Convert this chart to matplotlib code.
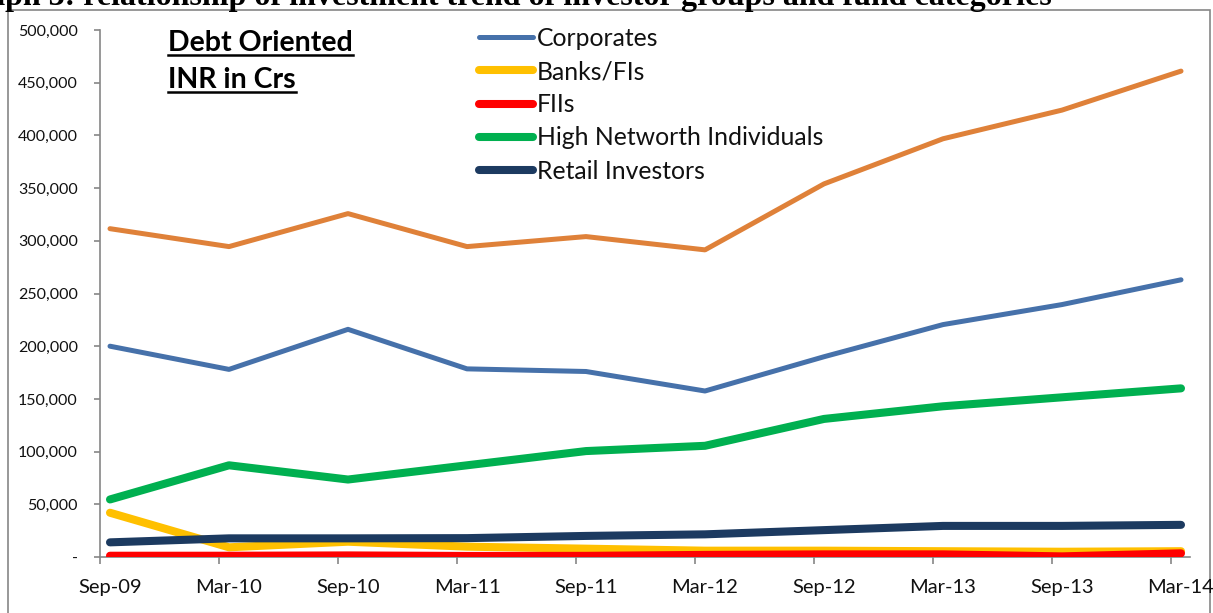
import matplotlib
matplotlib.use("Agg")
import matplotlib.pyplot as plt
from matplotlib.lines import Line2D
from matplotlib.patches import Rectangle
from matplotlib.ticker import FuncFormatter, FixedLocator

# Half-yearly periods
periods = ["Sep-09", "Mar-10", "Sep-10", "Mar-11", "Sep-11",
           "Mar-12", "Sep-12", "Mar-13", "Sep-13", "Mar-14"]

# Debt-oriented AUM by investor group (INR crore)
corporates = [200000, 178000, 216000, 178500, 176000, 157500, 190000, 220500, 239500, 263000]
banks_fis = [42000, 9200, 14500, 9800, 7900, 6000, 6000, 5500, 5000, 5500]
fiis = [1200, 1200, 1500, 1000, 1100, 2000, 2500, 2500, 600, 3500]
hni = [54600, 87000, 73500, 87000, 100500, 105500, 131000, 143000, 151500, 160000]
retail = [13900, 17700, 17700, 17900, 20000, 21500, 25500, 29500, 29500, 30500]
total = [311500, 294500, 325800, 294500, 304000, 291400, 354000, 396800, 424000, 461000]

series = [
    ("Corporates", corporates, "#4671AA", 3.6),
    ("Banks/FIs", banks_fis, "#FFC000", 5.8),
    ("FIIs", fiis, "#FF0000", 5.8),
    ("High Networth Individuals", hni, "#00B050", 5.8),
    ("Retail Investors", retail, "#1C3A60", 5.8),
]

FONT = "Lato"
W, H = 1213, 613
fig = plt.figure(figsize=(W / 100, H / 100), dpi=100)
fig.patch.set_facecolor("white")

# axes box in pixels: left 100, right 1190, top 30, bottom 557
ax = fig.add_axes([100 / W, (H - 557) / H, 1090 / W, 527 / H])

x = list(range(len(periods)))
handles = []
for name, vals, color, lw in series:
    (ln,) = ax.plot(x, vals, color=color, lw=lw, solid_capstyle="round",
                    solid_joinstyle="round", label=name, zorder=3)
    handles.append(ln)
ax.plot(x, total, color="#DF8139", lw=3.6, solid_capstyle="round",
        solid_joinstyle="round", zorder=3)

step_off = 10 / 119
ax.set_xlim(-step_off, 9 + 9 / 119)
ax.set_ylim(0, 500000)

grey = "#868686"
for side in ("top", "right"):
    ax.spines[side].set_visible(False)
for side in ("left", "bottom"):
    ax.spines[side].set_color(grey)
    ax.spines[side].set_linewidth(1.2)

ax.yaxis.set_major_locator(FixedLocator(range(0, 500001, 50000)))
ax.yaxis.set_major_formatter(FuncFormatter(lambda v, p: "-" if v == 0 else f"{int(v):,}"))
ax.tick_params(axis="y", direction="out", length=4, width=1.2, color=grey,
               pad=12, labelsize=11.5, labelcolor="#111111")
for lab in ax.get_yticklabels():
    lab.set_fontfamily(FONT)

# category labels at the points, tick marks slightly to the left
ax.set_xticks(x)
ax.set_xticklabels(periods, fontfamily=FONT, fontsize=14.5, color="#111111")
ax.tick_params(axis="x", which="major", length=0, pad=16)
ax.set_xticks([i - step_off for i in x], minor=True)
ax.tick_params(axis="x", which="minor", direction="out", length=5, width=1.2, color=grey)

leg = ax.legend(handles=handles, loc="upper left",
                bbox_to_anchor=(479 / W, 1 - 27 / H), bbox_transform=fig.transFigure,
                frameon=False, borderpad=0, borderaxespad=0,
                handlelength=2.2, handletextpad=0.15, labelspacing=0.41,
                prop={"family": FONT, "size": 17.8})
for t in leg.get_texts():
    t.set_color("#111111")

# outer chart frame
fig.add_artist(Rectangle((8 / W, -0.05), (1210 - 8) / W, 1.05 - 10 / H,
                         transform=fig.transFigure, fill=False,
                         edgecolor=grey, linewidth=1.2, zorder=0))

# heading above the frame, partly outside the canvas
fig.text(1052 / W, 1 - 5 / H,
         "Graph 3: relationship of investment trend of investor groups and fund categories",
         ha="right", va="baseline", fontfamily="Liberation Serif", fontweight="bold",
         fontsize=23, color="black")

# underlined annotation
notes = [("Debt Oriented", 51), ("INR in Crs", 88)]
note_texts = []
for label, base in notes:
    t = fig.text(168 / W, 1 - base / H, label, ha="left", va="baseline",
                 fontfamily=FONT, fontweight="bold", fontsize=20.5, color="black")
    note_texts.append((t, base))

fig.canvas.draw()
renderer = fig.canvas.get_renderer()
for t, base in note_texts:
    bb = t.get_window_extent(renderer)
    y = 1 - (base + 4) / H
    fig.add_artist(Line2D([bb.x0 / W, bb.x1 / W], [y, y], transform=fig.transFigure,
                          color="black", linewidth=1.8))

fig.savefig("out.png", dpi=100, facecolor="white")
